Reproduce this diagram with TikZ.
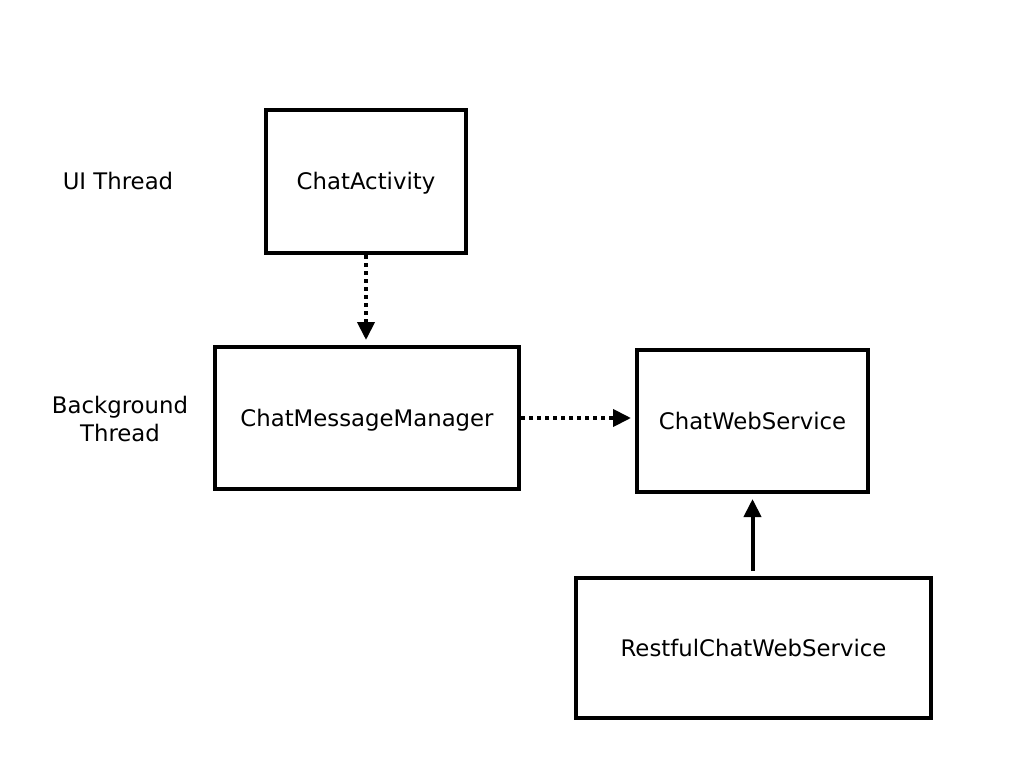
\documentclass[tikz,border=0pt]{standalone}
\usepackage{fontspec}
\setmainfont{DejaVu Sans}
\usetikzlibrary{arrows.meta}
\begin{document}
\begin{tikzpicture}[x=1pt,y=-1pt,
  box/.style={draw=black,line width=4pt,inner sep=0pt,text height=17pt,text depth=1pt,font=\fontsize{22.8}{27}\selectfont},
  lbl/.style={font=\fontsize{22.8}{28}\selectfont,align=center},
  tip/.style={-{Triangle[length=18pt,width=17pt]}},
  dotline/.style={line width=4pt,dash pattern=on 4pt off 4pt}]
\useasboundingbox (0,0) rectangle (1024,768);
\node[box,minimum width=200pt,minimum height=143pt] (ca) at (366,181.5) {ChatActivity};
\node[box,minimum width=304pt,minimum height=142pt] (cmm) at (367,418) {ChatMessageManager};
\node[box,minimum width=231pt,minimum height=142pt] (cws) at (752.5,421) {ChatWebService};
\node[box,minimum width=355pt,minimum height=140pt] (rcws) at (753.5,648) {RestfulChatWebService};
\node[lbl] (ui) at (118,181) {UI Thread};
\node[lbl] (bg) at (120,419) {Background\\Thread};
\draw[dotline,tip,shorten >=5pt] (ca.south) -- (ca.south |- cmm.north);
\draw[dotline,tip,shorten >=4pt] (cmm.east) -- (cmm.east -| cws.west);
\draw[line width=4pt,tip,shorten >=5pt,shorten <=5pt] (rcws.north -| cws.south) -- (cws.south);
\end{tikzpicture}
\end{document}
